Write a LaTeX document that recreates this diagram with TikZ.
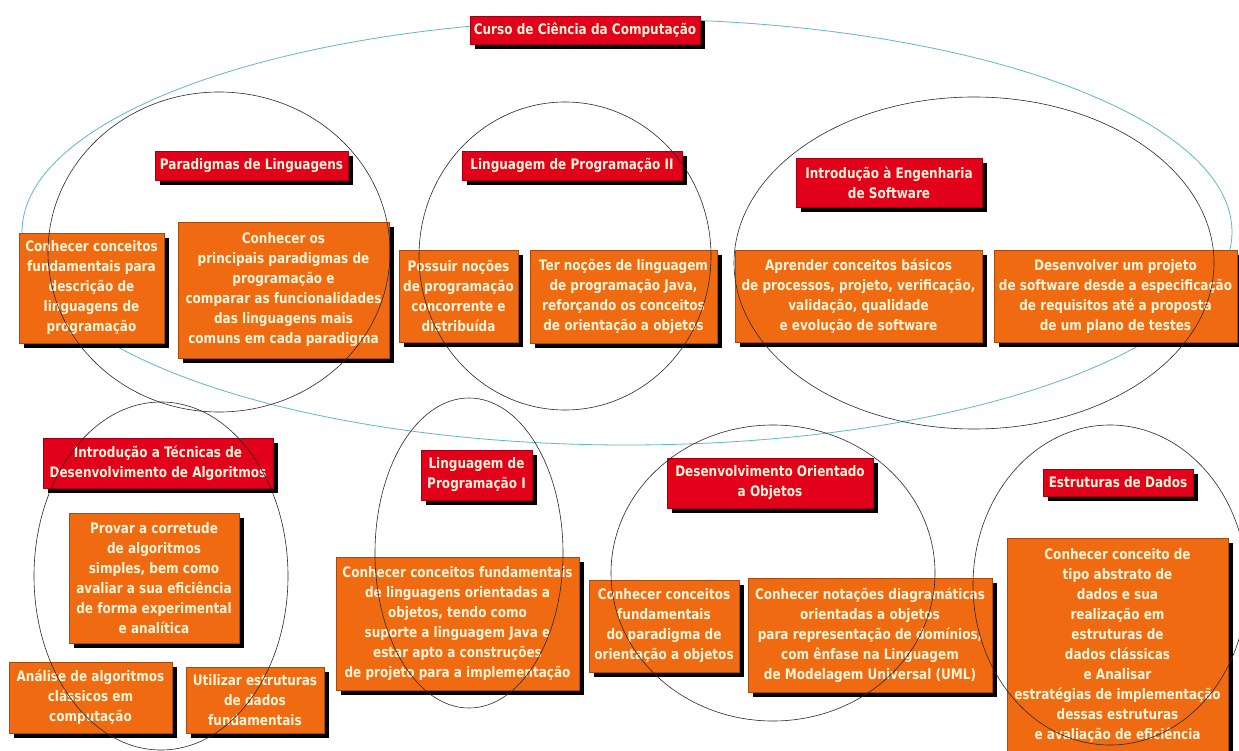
\documentclass[tikz,border=0pt]{standalone}
\usepackage{fontspec}
\setmainfont{DejaVu Sans}[FakeStretch=0.83]
\usetikzlibrary{shadows}
\definecolor{boxred}{RGB}{226,0,26}
\definecolor{boxorange}{RGB}{240,106,18}
\definecolor{boxtext}{RGB}{255,244,214}
\definecolor{ringcyan}{RGB}{96,184,200}
\definecolor{ringgray}{RGB}{40,40,40}
\tikzset{
  basebox/.style={rectangle, inner sep=0pt, align=center, text=boxtext,
    font=\bfseries\fontsize{14.5}{20}\selectfont,
    drop shadow={shadow xshift=5pt, shadow yshift=-5pt, opacity=1, fill=black}},
  titlebox/.style={basebox, fill=boxred, draw=boxred!70!black, line width=0.4pt},
  topicbox/.style={basebox, fill=boxorange, draw=boxorange!70!black, line width=0.4pt},
  ring/.style={draw=ringgray, line width=0.6pt},
  outerring/.style={draw=ringcyan, line width=0.8pt},
}
\begin{document}
\begin{tikzpicture}[x=1pt, y=-1pt]
\useasboundingbox (0,0) rectangle (1239,751);
\fill[white] (0,0) rectangle (1239,751);

% course-level outline
\draw[outerring] (627,232) ellipse [x radius=605pt, y radius=213pt];
\node[titlebox, minimum width=230pt, minimum height=28pt] (curso) at (585,30) {Curso de Ciência da Computação};

% subject headings
\node[titlebox, minimum width=193pt, minimum height=29pt] (parad) at (251.5,165.5) {Paradigmas de Linguagens};
\node[titlebox, minimum width=220pt, minimum height=29pt] (lp2) at (572,165.5) {Linguagem de Programação II};
\node[titlebox, minimum width=186pt, minimum height=49pt] (engsw) at (889,182.5) {Introdução à Engenharia\\de Software};
\node[titlebox, minimum width=230pt, minimum height=50pt] (tecalg) at (158,463) {Introdução a Técnicas de\\Desenvolvimento de Algoritmos};
\node[titlebox, minimum width=111pt, minimum height=50pt] (lp1) at (476.5,475) {Linguagem de\\Programação I};
\node[titlebox, minimum width=206pt, minimum height=50pt] (doo) at (770,483) {Desenvolvimento Orientado\\a Objetos};
\node[titlebox, minimum width=150pt, minimum height=27pt] (ed) at (1118,482.5) {Estruturas de Dados};

% objectives
\node[topicbox, minimum width=145pt, minimum height=110pt] (o1) at (91.5,288) {Conhecer conceitos\\fundamentais para\\descrição de\\linguagens de\\programação};
\node[topicbox, minimum width=211pt, minimum height=136pt] (o2) at (283.5,290) {Conhecer os\\principais paradigmas de\\programação e\\comparar as funcionalidades\\das linguagens mais\\comuns em cada paradigma};
\node[topicbox, minimum width=119pt, minimum height=92pt] (o3) at (458.5,296) {Possuir noções\\de programação\\concorrente e\\distribuída};
\node[topicbox, minimum width=187pt, minimum height=93pt] (o4) at (623.5,296.5) {Ter noções de linguagem\\de programação Java,\\reforçando os conceitos\\de orientação a objetos};
\node[topicbox, minimum width=247pt, minimum height=92pt] (o5) at (858.5,296) {Aprender conceitos básicos\\de processos, projeto, verificação,\\validação, qualidade\\e evolução de software};
\node[topicbox, minimum width=243pt, minimum height=92pt] (o6) at (1115.5,296) {Desenvolver um projeto\\de software desde a especificação\\de requisitos até a proposta\\de um plano de testes};
\node[topicbox, minimum width=170pt, minimum height=130pt] (o7) at (154,578) {Provar a corretude\\de algoritmos\\simples, bem como\\avaliar a sua eficiência\\de forma experimental\\e analítica};
\node[topicbox, minimum width=163pt, minimum height=71pt] (o8) at (90.5,697.5) {Análise de algoritmos\\clássicos em\\computação};
\node[topicbox, minimum width=138pt, minimum height=66pt] (o9) at (255,700) {Utilizar estruturas\\de dados\\fundamentais};
\node[topicbox, minimum width=243pt, minimum height=133pt] (o10) at (457.5,623.5) {Conhecer conceitos fundamentais\\de linguagens orientadas a\\objetos, tendo como\\suporte a linguagem Java e\\estar apto a construções\\de projeto para a implementação};
\node[topicbox, minimum width=150pt, minimum height=92pt] (o11) at (664,626) {Conhecer conceitos\\fundamentais\\do paradigma de\\orientação a objetos};
\node[topicbox, minimum width=244pt, minimum height=114pt] (o12) at (870,635) {Conhecer notações diagramáticas\\orientadas a objetos\\para representação de domínios,\\com ênfase na Linguagem\\de Modelagem Universal (UML)};
\node[topicbox, minimum width=221pt, minimum height=214pt] (o13) at (1117.5,645) {Conhecer conceito de\\tipo abstrato de\\dados e sua\\realização em\\estruturas de\\dados clássicas\\e Analisar\\estratégias de implementação\\dessas estruturas\\e avaliação de eficiência};

% subject outlines
\draw[ring] (219,252) ellipse [x radius=171pt, y radius=160pt];
\draw[ring] (565,256) ellipse [x radius=146pt, y radius=154pt];
\draw[ring] (974,263) ellipse [x radius=240pt, y radius=166pt];
\draw[ring] (161,576) ellipse [x radius=127pt, y radius=174pt];
\draw[ring] (469,553) ellipse [x radius=94pt, y radius=155pt];
\draw[ring] (773,573) ellipse [x radius=162pt, y radius=148pt];
\draw[ring] (1110,585) ellipse [x radius=137pt, y radius=160pt];
\end{tikzpicture}
\end{document}
